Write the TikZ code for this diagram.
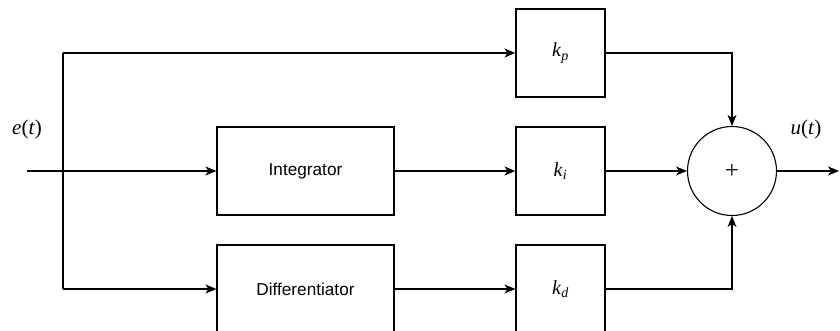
\documentclass[tikz,border=0pt]{standalone}
\usepackage{fontspec}
\setmainfont{Liberation Serif}
\setsansfont{Liberation Sans}
\usetikzlibrary{arrows.meta}
\begin{document}
\begin{tikzpicture}[x=1pt,y=-1pt,
  blk/.style={draw,line width=1.1pt,minimum width=#1,minimum height=88pt,inner sep=0pt,font=\sffamily\fontsize{17.2}{20}\selectfont},
  blk/.default=88pt,
  gain/.style={font=\rmfamily\fontsize{20}{24}\selectfont},
  conn/.style={draw,line width=1.1pt,-{Stealth[length=11pt,width=9pt,inset=3pt]}},
  wire/.style={draw,line width=1.1pt},
  lbl/.style={font=\fontsize{21}{25}\selectfont}]
\useasboundingbox (0,0) rectangle (840,331);
\node[blk=89pt,gain] (kp) at (560.5,53) {\textit{k}\textsubscript{\textit{p}}};
\node[blk=89pt,gain] (ki) at (560.5,171) {\textit{k}\textsubscript{\textit{i}}};
\node[blk=89pt,gain] (kd) at (560.5,289) {\textit{k}\textsubscript{\textit{d}}};
\node[blk=177pt] (int) at (305.5,171) {Integrator};
\node[blk=177pt] (dif) at (305.5,289) {Differentiator};
\node[draw,circle,line width=1.1pt,minimum size=89pt,inner sep=0pt,font=\fontsize{25}{29}\selectfont] (sum) at (732,171) {+};
\coordinate (in) at (27,171);
\coordinate (br) at (63,171);
\coordinate (out) at (839,171);
\node[lbl] (elbl) at (27,129) {\textit{e}(\textit{t})};
\node[lbl] (ulbl) at (806,129) {\textit{u}(\textit{t})};
\draw[conn] (in) -- (int.west);
\draw[wire] (br |- kp.west) -- (br |- dif.west);
\draw[conn] (br |- kp.west) -- (kp.west);
\draw[conn] (br |- dif.west) -- (dif.west);
\draw[conn] (int.east) -- (ki.west);
\draw[conn] (dif.east) -- (kd.west);
\draw[conn] (kp.east) -| (sum.north);
\draw[conn] (ki.east) -- (sum.west);
\draw[conn] (kd.east) -| (sum.south);
\draw[conn] (sum.east) -- (out);
\end{tikzpicture}
\end{document}
